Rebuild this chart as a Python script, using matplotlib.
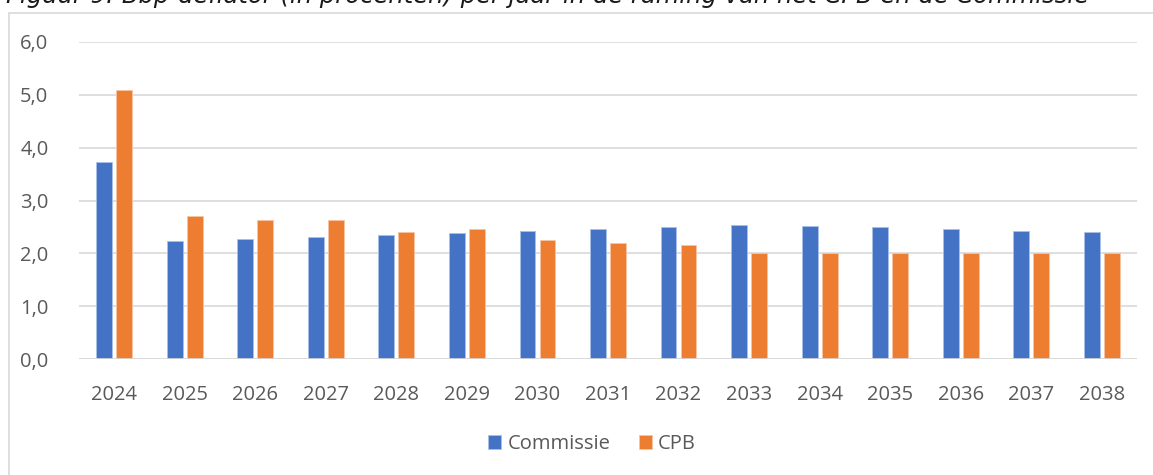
import matplotlib
matplotlib.use("Agg")
import matplotlib.pyplot as plt
import numpy as np
from matplotlib.patches import Rectangle

years = ["2024", "2025", "2026", "2027", "2028", "2029", "2030", "2031",
         "2032", "2033", "2034", "2035", "2036", "2037", "2038"]
commissie = [3.72, 2.23, 2.27, 2.31, 2.35, 2.39, 2.42, 2.46, 2.50, 2.54,
             2.52, 2.49, 2.47, 2.43, 2.41]
cpb = [5.09, 2.70, 2.63, 2.63, 2.40, 2.46, 2.26, 2.20, 2.15, 2.00,
       2.00, 2.00, 2.00, 2.00, 2.00]
yticks = [0.0, 1.0, 2.0, 3.0, 4.0, 5.0, 6.0]
ytick_labels = ["0,0", "1,0", "2,0", "3,0", "4,0", "5,0", "6,0"]
title = "Figuur 9: Bbp-deflator (in procenten) per jaar in de raming van het CPB en de Commissie"

W, H = 1153, 475
fig = plt.figure(figsize=(W / 100, H / 100), dpi=100)
fig.patch.set_facecolor("white")

# chart border
fig.patches.append(Rectangle((8.5 / W, -0.01), (1160 - 8.5) / W, (H - 12.7) / H + 0.01,
                             transform=fig.transFigure, fill=False,
                             edgecolor="#d9d9d9", linewidth=1.2))

fig.text(6 / W, 1 - 3 / H, title, fontsize=17.5, style="italic",
         family="DejaVu Sans", color="#1a1a1a", va="baseline", ha="left")

ax = fig.add_axes([79 / W, 1 - 359 / H, (1137 - 79) / W, (359 - 42) / H])
x = np.arange(len(years))
bw = 0.225
off = 0.142
ax.bar(x - off, commissie, bw, color="#4472C4", label="Commissie",
       edgecolor="#a9c0e8", linewidth=0.6, zorder=3)
ax.bar(x + off, cpb, bw, color="#ED7D31", label="CPB",
       edgecolor="#f7c4a3", linewidth=0.6, zorder=3)

ax.set_xlim(-0.5, len(years) - 0.5)
ax.set_ylim(0, 6)
ax.set_yticks(yticks)
ax.set_yticklabels(ytick_labels)
ax.set_xticks(x)
ax.set_xticklabels(years)
ax.yaxis.grid(True, color="#d9d9d9", linewidth=1.2, zorder=0)
for s in ax.spines.values():
    s.set_visible(False)
ax.axhline(0, color="#d9d9d9", linewidth=1.2, zorder=4)
ax.tick_params(axis="both", length=0, labelsize=14.5, labelcolor="#595959")
ax.tick_params(axis="x", pad=19)
ax.tick_params(axis="y", pad=22)
for lbl in ax.get_xticklabels() + ax.get_yticklabels():
    lbl.set_family("Open Sans")

leg = fig.legend(loc="center", bbox_to_anchor=(592 / W, 1 - 444 / H), ncol=2,
                 frameon=False, handlelength=0.65, handleheight=0.65,
                 handletextpad=0.3, columnspacing=1.4,
                 prop={"family": "Open Sans", "size": 14.5})
for t in leg.get_texts():
    t.set_color("#595959")

fig.savefig("out.png", dpi=100)
